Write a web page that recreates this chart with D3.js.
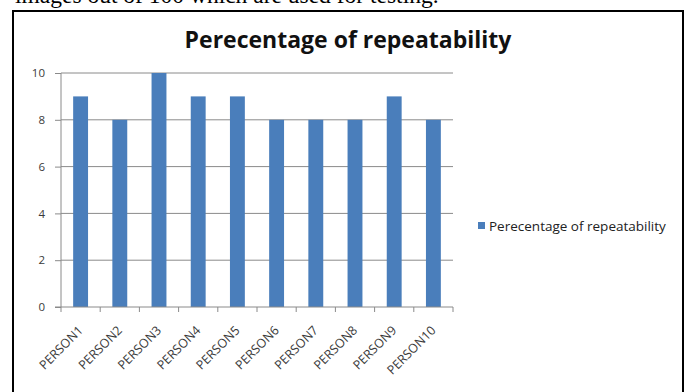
<!DOCTYPE html>
<html><head><meta charset="utf-8">
<script src="https://cdn.jsdelivr.net/npm/d3@7"></script>
<style>body{margin:0;background:#fff}svg{display:block}</style>
</head><body>
<svg id="c" width="689" height="392"></svg>
<script>
const categories = ["PERSON1","PERSON2","PERSON3","PERSON4","PERSON5","PERSON6","PERSON7","PERSON8","PERSON9","PERSON10"];
const values = [9,8,10,9,9,8,8,8,9,8];
const yTicks = [0,2,4,6,8,10];
const seriesName = "Perecentage of repeatability";
const titleText = "Perecentage of repeatability";
const captionText = "images out of 100 which are used for testing.";

const svg = d3.select("#c");
// caption text (cut at top in the reference)
svg.append("text").attr("x",15).attr("y",3)
  .attr("font-family","Liberation Serif, Times New Roman, serif").attr("font-size",23.5)
  .attr("fill","#000").text(captionText);
// chart frame
svg.append("rect").attr("x",13).attr("y",11).attr("width",670).attr("height",395)
  .attr("fill","#fff").attr("stroke","#000").attr("stroke-width",2);

const x = d3.scaleBand().domain(categories).range([61,453]).paddingInner(0.62).paddingOuter(0.31);
const xb = d3.scaleBand().domain(categories).range([61,453]);
const y = d3.scaleLinear().domain([0,10]).range([307,73]);

const font = "Open Sans, Liberation Sans, Arial, sans-serif";

// gridlines
svg.append("g").selectAll("line").data(yTicks.filter(d=>d>0)).join("line")
  .attr("x1",61).attr("x2",453).attr("y1",d=>y(d)).attr("y2",d=>y(d))
  .attr("stroke","#8a8a8a").attr("stroke-width",1);

// bars
svg.append("g").selectAll("rect").data(values).join("rect")
  .attr("x",(d,i)=>x(categories[i])).attr("width",x.bandwidth())
  .attr("y",d=>y(d)).attr("height",d=>y(0)-y(d)).attr("fill","#4a7ebb");

// y axis
const ya = svg.append("g").attr("transform","translate(61,0)")
  .call(d3.axisLeft(y).tickValues(yTicks).tickSize(6).tickPadding(10).tickFormat(d3.format("d")));
ya.select(".domain").attr("stroke","#8a8a8a").attr("d","M0,73V307");
ya.selectAll(".tick line").attr("stroke","#8a8a8a");
ya.selectAll("text").attr("font-family",font).attr("font-size",11.5).attr("fill","#3a3a3a");

// x axis
const xa = svg.append("g").attr("transform","translate(0,307)");
xa.append("line").attr("x1",55).attr("x2",453).attr("stroke","#8a8a8a");
xa.selectAll("line.t").data(categories.concat(["end"])).join("line").attr("class","t")
  .attr("x1",(d,i)=>i<categories.length?xb(d):453).attr("x2",(d,i)=>i<categories.length?xb(d):453)
  .attr("y1",0).attr("y2",5).attr("stroke","#8a8a8a");
xa.selectAll("text").data(categories).join("text")
  .attr("transform",d=>`translate(${xb(d)+xb.bandwidth()/2},21) rotate(-45)`)
  .attr("text-anchor","end").attr("dy","0.35em")
  .attr("font-family",font).attr("font-size",12.5).attr("fill","#3a3a3a")
  .text(d=>d);

// title
svg.append("text").attr("x",348).attr("y",48).attr("text-anchor","middle")
  .attr("font-family",font).attr("font-weight","bold").attr("font-size",23)
  .attr("fill","#111").text(titleText);

// legend
const lg = svg.append("g").attr("transform","translate(478,222)");
lg.append("rect").attr("width",7).attr("height",7).attr("fill","#4a7ebb");
lg.append("text").attr("x",11).attr("y",4).attr("dy","0.35em")
  .attr("font-family",font).attr("font-size",13.5).attr("fill","#222")
  .text(seriesName);
</script>
</body></html>
